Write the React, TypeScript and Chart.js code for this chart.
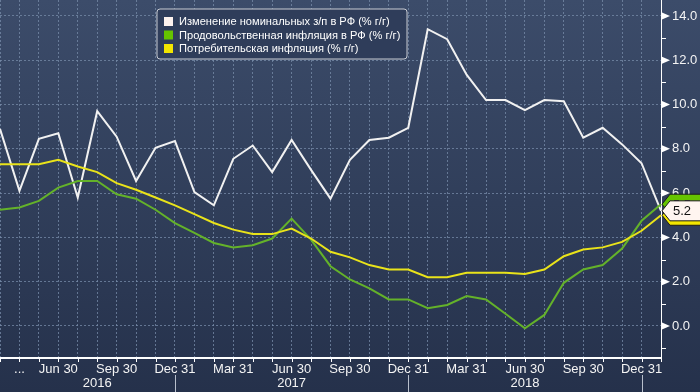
import React, { useEffect, useRef } from 'react';
import { Chart, registerables } from 'chart.js';

Chart.register(...registerables);

// Monthly observations, Mar 2016 – Jan 2019
const months = [
  '2016-03', '2016-04', '2016-05', '2016-06', '2016-07', '2016-08', '2016-09', '2016-10', '2016-11', '2016-12',
  '2017-01', '2017-02', '2017-03', '2017-04', '2017-05', '2017-06', '2017-07', '2017-08', '2017-09', '2017-10',
  '2017-11', '2017-12', '2018-01', '2018-02', '2018-03', '2018-04', '2018-05', '2018-06', '2018-07', '2018-08',
  '2018-09', '2018-10', '2018-11', '2018-12', '2019-01',
];

const xTickLabels = [
  '', '...', '', 'Jun 30', '', '', 'Sep 30', '', '', 'Dec 31',
  '', '', 'Mar 31', '', '', 'Jun 30', '', '', 'Sep 30', '',
  '', 'Dec 31', '', '', 'Mar 31', '', '', 'Jun 30', '', '',
  'Sep 30', '', '', 'Dec 31', '',
];

const yearLabels = ['2016', '2017', '2018'];

const wages = [
  8.9, 6.1, 8.45, 8.7, 5.8, 9.7, 8.55, 6.55, 8.05, 8.35,
  6.05, 5.45, 7.55, 8.15, 6.95, 8.4, 7.05, 5.75, 7.5, 8.4,
  8.5, 8.95, 13.4, 12.95, 11.35, 10.2, 10.2, 9.75, 10.2, 10.15,
  8.5, 8.95, 8.2, 7.35, 5.2,
];

const food = [
  5.25, 5.35, 5.65, 6.25, 6.55, 6.55, 5.95, 5.75, 5.25, 4.65,
  4.2, 3.75, 3.55, 3.65, 3.95, 4.85, 3.9, 2.7, 2.1, 1.7,
  1.2, 1.2, 0.8, 0.95, 1.35, 1.2, 0.55, -0.1, 0.5, 1.95,
  2.55, 2.75, 3.5, 4.75, 5.5,
];

const cpi = [
  7.3, 7.3, 7.3, 7.5, 7.2, 6.95, 6.45, 6.15, 5.8, 5.45,
  5.05, 4.65, 4.35, 4.15, 4.15, 4.4, 3.95, 3.35, 3.1, 2.75,
  2.55, 2.55, 2.2, 2.2, 2.4, 2.4, 2.4, 2.35, 2.55, 3.15,
  3.45, 3.55, 3.8, 4.3, 5.0,
];

const seriesNames = [
  'Изменение номинальных з/п в РФ (% г/г)',
  'Продовольственная инфляция в РФ (% г/г)',
  'Потребительская инфляция (% г/г)',
];

const yTickValues = [-1, 0, 1, 2, 3, 4, 5, 6, 7, 8, 9, 10, 11, 12, 13, 14];

const COLORS = {
  wages: '#f1f1f1',
  food: '#64b22a',
  cpi: '#e9e31a',
  wagesSwatch: '#fdf2ee',
  foodSwatch: '#66c400',
  cpiSwatch: '#f3e600',
  grid: 'rgba(120,140,170,0.75)',
  text: '#f4f4f4',
};

const FONT = '"Liberation Sans", Arial, sans-serif';

export default function App() {
  const canvasRef = useRef<HTMLCanvasElement | null>(null);

  useEffect(() => {
    document.body.style.margin = '0';
    const canvas = canvasRef.current;
    if (!canvas) return;

    const bgPlugin = {
      id: 'bgPlugin',
      beforeDraw(chart: any) {
        const { ctx, width, height } = chart;
        const g = ctx.createLinearGradient(0, 0, 0, height);
        g.addColorStop(0, '#3c4c6a');
        g.addColorStop(1, '#25314b');
        ctx.save();
        ctx.fillStyle = g;
        ctx.fillRect(0, 0, width, height);
        ctx.restore();
      },
    };

    const decorPlugin = {
      id: 'decorPlugin',
      afterDraw(chart: any) {
        const { ctx, chartArea } = chart;
        const xs = chart.scales.x;
        const ys = chart.scales.y;
        ctx.save();

        // x tick marks
        ctx.strokeStyle = '#ffffff';
        ctx.lineWidth = 1;
        for (let i = 0; i < months.length; i++) {
          const x = Math.round(xs.getPixelForValue(i)) + 0.5;
          ctx.beginPath();
          ctx.moveTo(x, chartArea.bottom);
          ctx.lineTo(x, chartArea.bottom + 4);
          ctx.stroke();
        }

        // y tick marks
        ctx.fillStyle = '#ffffff';
        for (const v of yTickValues) {
          const y = ys.getPixelForValue(v);
          if (v % 2 === 0) {
            ctx.beginPath();
            ctx.moveTo(chartArea.right + 1, y - 3.5);
            ctx.lineTo(chartArea.right + 9, y);
            ctx.lineTo(chartArea.right + 1, y + 3.5);
            ctx.closePath();
            ctx.fill();
          } else {
            ctx.beginPath();
            ctx.moveTo(chartArea.right, Math.round(y) + 0.5);
            ctx.lineTo(chartArea.right + 5, Math.round(y) + 0.5);
            ctx.stroke();
          }
        }

        // year separators and labels
        const decIdx: number[] = [];
        months.forEach((m, i) => { if (m.endsWith('-12')) decIdx.push(i); });
        ctx.strokeStyle = '#b8bfcc';
        ctx.lineWidth = 1;
        for (const i of decIdx) {
          const x = Math.round(xs.getPixelForValue(i)) + 0.5;
          ctx.beginPath();
          ctx.moveTo(x, chartArea.bottom + 17);
          ctx.lineTo(x, chart.height);
          ctx.stroke();
        }
        ctx.fillStyle = COLORS.text;
        ctx.font = `13px ${FONT}`;
        ctx.textAlign = 'center';
        ctx.textBaseline = 'middle';
        const firstLabeled = xTickLabels.findIndex((l) => l !== '');
        yearLabels.forEach((yl, k) => {
          const start = k === 0 ? firstLabeled : decIdx[k - 1];
          const end = decIdx[k];
          const x = (xs.getPixelForValue(start) + xs.getPixelForValue(end)) / 2;
          ctx.fillText(yl, x, chartArea.bottom + 25);
        });

        // legend box
        const lx = 157, ly = 9, lw = 250, lh = 50;
        ctx.beginPath();
        const r = 3;
        ctx.moveTo(lx + r, ly);
        ctx.lineTo(lx + lw - r, ly);
        ctx.quadraticCurveTo(lx + lw, ly, lx + lw, ly + r);
        ctx.lineTo(lx + lw, ly + lh - r);
        ctx.quadraticCurveTo(lx + lw, ly + lh, lx + lw - r, ly + lh);
        ctx.lineTo(lx + r, ly + lh);
        ctx.quadraticCurveTo(lx, ly + lh, lx, ly + lh - r);
        ctx.lineTo(lx, ly + r);
        ctx.quadraticCurveTo(lx, ly, lx + r, ly);
        ctx.closePath();
        ctx.fillStyle = '#2f3d5a';
        ctx.fill();
        ctx.strokeStyle = '#c9ccd3';
        ctx.lineWidth = 1;
        ctx.stroke();
        const swatches = [COLORS.wagesSwatch, COLORS.foodSwatch, COLORS.cpiSwatch];
        ctx.font = `11.1px ${FONT}`;
        ctx.textAlign = 'left';
        ctx.textBaseline = 'middle';
        seriesNames.forEach((name, k) => {
          const cy = 21.5 + k * 13.5;
          ctx.fillStyle = swatches[k];
          ctx.fillRect(164, cy - 4.5, 9, 9);
          ctx.fillStyle = '#ffffff';
          ctx.fillText(name, 179, cy + 0.5);
        });

        // end-value labels
        const ends = [
          { v: cpi[cpi.length - 1], fill: COLORS.cpiSwatch },
          { v: food[food.length - 1], fill: COLORS.foodSwatch },
          { v: wages[wages.length - 1], fill: '#fff5f0' },
        ];
        ctx.font = `13px ${FONT}`;
        for (const e of ends) {
          const y = ys.getPixelForValue(e.v);
          const tip = chartArea.right + 1;
          ctx.beginPath();
          ctx.moveTo(tip, y);
          ctx.lineTo(tip + 8, y - 10);
          ctx.lineTo(chart.width + 2, y - 10);
          ctx.lineTo(chart.width + 2, y + 10);
          ctx.lineTo(tip + 8, y + 10);
          ctx.closePath();
          ctx.fillStyle = e.fill;
          ctx.fill();
          ctx.strokeStyle = '#1b1b1b';
          ctx.lineWidth = 1;
          ctx.stroke();
          ctx.fillStyle = '#111111';
          ctx.textAlign = 'left';
          ctx.textBaseline = 'middle';
          ctx.fillText(e.v.toFixed(1), tip + 11, y + 1);
        }

        ctx.restore();
      },
    };

    const chart = new Chart(canvas, {
      type: 'line',
      data: {
        labels: months,
        datasets: [
          { label: seriesNames[2], data: cpi, borderColor: COLORS.cpi, borderWidth: 2, pointRadius: 0, tension: 0 },
          { label: seriesNames[1], data: food, borderColor: COLORS.food, borderWidth: 2, pointRadius: 0, tension: 0 },
          { label: seriesNames[0], data: wages, borderColor: COLORS.wages, borderWidth: 2, pointRadius: 0, tension: 0 },
        ],
      },
      options: {
        responsive: false,
        animation: false,
        events: [],
        layout: { padding: 0 },
        plugins: { legend: { display: false }, tooltip: { enabled: false } },
        scales: {
          x: {
            type: 'category',
            offset: false,
            grid: { color: COLORS.grid, lineWidth: 1, drawTicks: false },
            border: { display: true, color: '#ffffff', width: 2, dash: [2, 2] },
            ticks: {
              autoSkip: false,
              maxRotation: 0,
              minRotation: 0,
              padding: 4,
              color: COLORS.text,
              font: { family: FONT, size: 13 },
              callback: (_v: any, i: number) => xTickLabels[i],
            },
            afterFit: (s: any) => { s.height = 34; s.paddingLeft = 0; s.paddingRight = 0; },
          },
          y: {
            type: 'linear',
            position: 'right',
            min: -1.445,
            max: 14.72,
            afterBuildTicks: (s: any) => { s.ticks = yTickValues.map((value) => ({ value })); },
            grid: {
              color: (c: any) => (c.tick && c.tick.value % 2 === 0 ? COLORS.grid : 'rgba(0,0,0,0)'),
              lineWidth: 1,
              drawTicks: false,
            },
            border: { display: true, color: '#ffffff', width: 1, dash: [2, 2] },
            ticks: {
              padding: 11,
              color: COLORS.text,
              font: { family: FONT, size: 13 },
              callback: (v: any) => (Number(v) % 2 === 0 ? Number(v).toFixed(1) : ''),
            },
            afterFit: (s: any) => { s.width = 39; s.paddingTop = 0; s.paddingBottom = 0; },
          },
        },
      },
      plugins: [bgPlugin, decorPlugin],
    });

    return () => chart.destroy();
  }, []);

  return (
    <div style={{ position: 'relative', width: 700, height: 392 }}>
      <canvas ref={canvasRef} width={700} height={392} style={{ display: 'block', width: 700, height: 392 }} />
    </div>
  );
}
